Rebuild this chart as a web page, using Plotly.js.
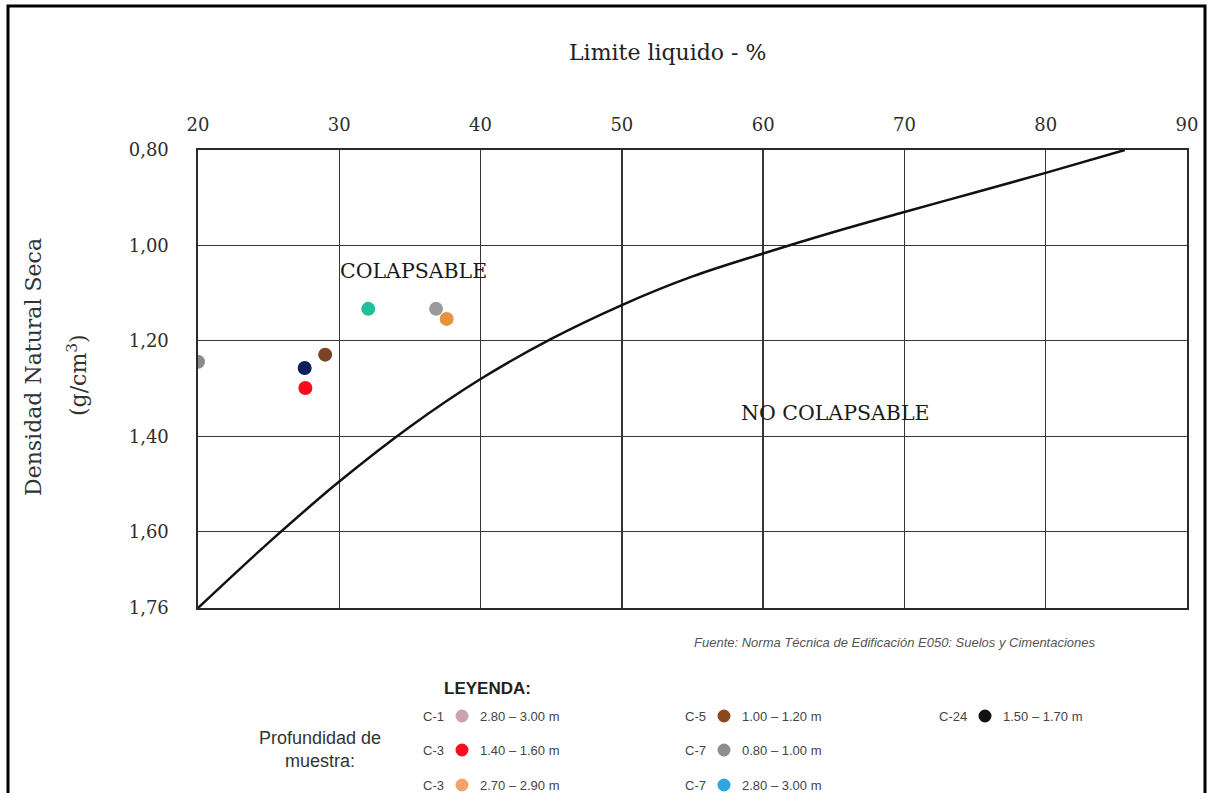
<!DOCTYPE html>
<html>
<head>
<meta charset="utf-8">
<script src="https://cdn.plot.ly/plotly-3.0.1.min.js"></script>
<style>
  html, body { margin: 0; padding: 0; background: #ffffff; overflow: hidden; }
  #chart { width: 1209px; height: 793px; }
</style>
</head>
<body>
<div id="chart"></div>
<script>
// ---- Data ----
const xTicks = [20, 30, 40, 50, 60, 70, 80, 90];
const yTicks = [0.80, 1.00, 1.20, 1.40, 1.60, 1.76];
const yTickText = ['0,80', '1,00', '1,20', '1,40', '1,60', '1,76'];

// Límite de colapsabilidad (curva de la norma E050)
const curvaLimiteLiquido = [20, 25, 30, 35, 40, 45, 50, 55, 60, 65, 70, 75, 80, 85.6];
const curvaDensidad      = [1.76, 1.623, 1.495, 1.380, 1.280, 1.196, 1.125, 1.065, 1.017, 0.972, 0.930, 0.889, 0.848, 0.80];

// Muestras
const muestras       = ['C-1', 'C-3', 'C-3', 'C-5', 'C-7', 'C-7', 'C-24'];
const profundidades  = ['2.80 – 3.00 m', '1.40 – 1.60 m', '2.70 – 2.90 m', '1.00 – 1.20 m', '0.80 – 1.00 m', '2.80 – 3.00 m', '1.50 – 1.70 m'];
const limiteLiquido  = [20.0, 27.6, 37.6, 29.0, 36.85, 32.05, 27.55];
const densidadSeca   = [1.244, 1.299, 1.154, 1.229, 1.133, 1.133, 1.257];
const coloresPunto   = ['#8c8c8c', '#ff0a1a', '#e8923e', '#7b4424', '#9a9a9a', '#1fbf9c', '#0d1f5a'];
const coloresLeyenda = ['#c9a3ad', '#ff0a1e', '#f5a36e', '#8b4a1c', '#8e8e8e', '#2ea7e0', '#111111'];

// ---- Layout helpers (pixel -> paper) ----
const L = 198, T = 150, W = 989, H = 458;
const px = v => (v - L) / W;
const py = v => (T + H - v) / H;

const traces = [];
traces.push({
  type: 'scatter', mode: 'lines',
  x: curvaLimiteLiquido, y: curvaDensidad,
  line: { color: '#111111', width: 2.5, shape: 'spline', smoothing: 1 },
  showlegend: false, hoverinfo: 'skip'
});
for (let i = 0; i < muestras.length; i++) {
  traces.push({
    type: 'scatter', mode: 'markers',
    x: [limiteLiquido[i]], y: [densidadSeca[i]],
    marker: { color: coloresPunto[i], size: 14 },
    name: muestras[i] + ' ' + profundidades[i],
    showlegend: false
  });
}

const serif = 'DejaVu Serif, serif';
const sans = 'Liberation Sans, Arial, sans-serif';
const legendFont = { family: sans, size: 13, color: '#444444' };

function ann(x, y, text, font, extra) {
  return Object.assign({ xref: 'paper', yref: 'paper', x: px(x), y: py(y), text: text,
    showarrow: false, xanchor: 'center', yanchor: 'middle', font: font }, extra || {});
}

const layout = {
  width: 1209, height: 793,
  margin: { l: L, r: 1209 - L - W, t: T, b: 793 - T - H, pad: 0 },
  paper_bgcolor: '#ffffff', plot_bgcolor: '#ffffff',
  separators: ',.',
  showlegend: false,
  font: { family: serif, color: '#222222' },
  xaxis: {
    side: 'top', range: [20, 90], tickvals: xTicks,
    showgrid: true, gridcolor: '#363636', gridwidth: 1.3,
    showline: true, mirror: true, linecolor: '#2a2a2a', linewidth: 1.6,
    zeroline: false, ticks: '', ticklabelstandoff: 10,
    tickfont: { family: serif, size: 18, color: '#2e2e2e' }
  },
  yaxis: {
    range: [1.76, 0.80], tickvals: yTicks, ticktext: yTickText,
    showgrid: true, gridcolor: '#363636', gridwidth: 1.3,
    showline: true, mirror: true, linecolor: '#2a2a2a', linewidth: 1.6,
    zeroline: false, ticks: '', ticklabelstandoff: 24,
    tickfont: { family: serif, size: 18, color: '#2e2e2e' }
  },
  shapes: [
    { type: 'rect', xref: 'paper', yref: 'paper', layer: 'between',
      x0: px(331), x1: px(491), y0: py(294), y1: py(247),
      fillcolor: '#ffffff', line: { width: 0 } },
    { type: 'rect', xref: 'paper', yref: 'paper', layer: 'between',
      x0: px(738), x1: px(932), y0: py(436), y1: py(389),
      fillcolor: '#ffffff', line: { width: 0 } },
    { type: 'rect', xref: 'paper', yref: 'paper', layer: 'above',
      x0: px(8), x1: px(1205), y0: py(830), y1: py(6),
      fillcolor: 'rgba(0,0,0,0)', line: { color: '#000000', width: 3 } }
  ],
  annotations: [
    ann(667, 52, 'Limite liquido - %', { family: serif, size: 22, color: '#222222' }),
    ann(33, 367, 'Densidad Natural Seca', { family: serif, size: 22, color: '#333333' }, { textangle: -90 }),
    ann(77, 375, '(g/cm<sup>3</sup>)', { family: serif, size: 22, color: '#333333' }, { textangle: -90 }),
    ann(413, 271, 'COLAPSABLE', { family: serif, size: 20.5, color: '#1a1a1a' }),
    ann(835, 413, 'NO COLAPSABLE', { family: serif, size: 20.5, color: '#1a1a1a' }),
    ann(895, 642, '<i>Fuente: Norma Técnica de Edificación E050: Suelos y Cimentaciones</i>',
        { family: sans, size: 13, color: '#555555' }),
    ann(442, 688, '<b>LEYENDA:</b>', { family: sans, size: 17, color: '#222222' }, { xanchor: 'left' }),
    ann(320, 749, 'Profundidad de<br>muestra:', { family: sans, size: 18, color: '#333333' })
  ]
};

// Legend grid (text + circle symbol per sample)
const legendCols = [462, 724, 985];
const legendRows = [716, 750, 785];
const legendPos = [[0,0],[0,1],[0,2],[1,0],[1,1],[1,2],[2,0]];
for (let i = 0; i < muestras.length; i++) {
  const cx = legendCols[legendPos[i][0]], cy = legendRows[legendPos[i][1]];
  layout.annotations.push(ann(cx - 16, cy, muestras[i], legendFont, { xanchor: 'right' }));
  layout.annotations.push(ann(cx + 16, cy, profundidades[i], legendFont, { xanchor: 'left' }));
  layout.shapes.push({
    type: 'circle', xref: 'paper', yref: 'paper',
    xsizemode: 'pixel', ysizemode: 'pixel',
    xanchor: px(cx), yanchor: py(cy), x0: -6.5, x1: 6.5, y0: -6.5, y1: 6.5,
    fillcolor: coloresLeyenda[i], line: { width: 0 }
  });
}

Plotly.newPlot('chart', traces, layout, { displayModeBar: false, staticPlot: true });
</script>
</body>
</html>
